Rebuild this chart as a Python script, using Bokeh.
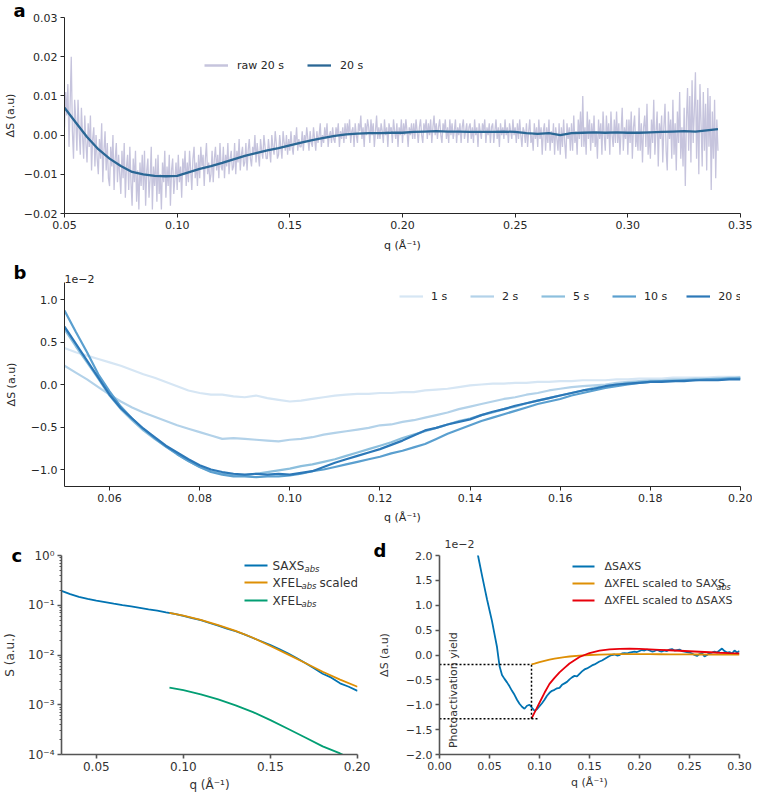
import numpy as np
from bokeh.plotting import figure
from bokeh.layouts import column, row
from bokeh.models import (Range1d, FixedTicker, CustomJSTickFormatter, Label,
                          Legend, LegendItem, BoxAnnotation, Title)
from bokeh.embed import file_html
from bokeh.resources import INLINE

FONT = "DejaVu Sans"

# ---------------- panel a : raw and smoothed 20 s difference (units 1e-3) ----------------
a_raw_q_start, a_raw_q_step = 0.050, 0.0005
a_raw_20s = [
    2, 11, 5, 13, -3, 8, 20, 1, -6, 9,
    4, -4, 9, 1, -5, 7, 0, -6, 5, -2,
    -7, 3, -3, 5, -9, -1, 2, -8, 0, -6,
    -10, -1, -6, 3, -12, -4, 1, -9, -2, -11,
    -13, -3, -8, 0, -14, -6, -2, -12, -5, -10,
    -15, -4, -11, -2, -16, -8, -5, -14, -3, -12,
    -18, -6, -12, -4, -17, -9, -19, -7, -13, -5,
    -14, -4, -18, -9, -6, -16, -11, -3, -19, -8,
    -13, -6, -17, -5, -15, -10, -19, -7, -12, -4,
    -16, -8, -13, -5, -18, -9, -6, -15, -11, -7,
    -14, -5, -12, -8, -16, -6, -10, -4, -13, -7,
    -12, -4, -9, -14, -6, -3, -11, -7, -13, -5,
    -11, -3, -8, -5, -13, -6, -2, -10, -7, -12,
    -10, -4, -12, -6, -3, -9, -5, -11, -2, -8,
    -9, -3, -11, -5, -8, -2, -10, -6, -4, -9,
    -8, -2, -10, -4, -7, -1, -9, -5, -3, -8,
    -7, -2, -9, -4, -1, -6, -8, -3, -5, 0,
    -7, -2, -5, -8, -1, -4, -6, 0, -3, -6,
    -6, -1, -4, -7, 0, -3, -5, 1, -2, -6,
    -5, 0, -3, -6, 1, -2, -4, 0, -5, -1,
    -4, 1, -3, -5, 0, -2, 2, -4, -1, -3,
    -3, 1, -4, 0, -2, 2, -1, -4, 1, -2,
    -3, 2, -1, -4, 1, -2, 0, 3, -3, 0,
    -2, 2, -1, 3, -3, 0, 1, -2, 2, -1,
    -2, 2, 0, 3, -3, 1, -1, 2, -2, 3,
    -1, 3, 0, 4, -2, 1, 2, -3, 3, 0,
    -2, 3, 1, 5, -1, 2, -3, 3, 0, 4,
    2, -2, 4, 0, 3, -3, 1, 5, -1, 2,
    -1, 3, 1, -2, 4, 0, 2, -3, 3, 1,
    2, -2, 4, 1, -1, 3, -3, 2, 0, 4,
    -2, 3, 0, 4, 1, -3, 2, 0, 3, -1,
    3, -1, 4, 1, -2, 2, 4, 0, -2, 3,
    1, 4, -1, 3, 0, 4, -2, 2, 5, 0,
    3, -1, 2, 4, 0, -2, 3, 1, 4, -1,
    2, -2, 4, 0, 3, -1, 1, 4, -2, 2,
    0, 3, -2, 2, 4, -1, 1, 3, -2, 2,
    3, -1, 2, -2, 4, 0, 2, -3, 3, 1,
    -1, 3, 1, 4, -2, 2, 0, 3, -2, 2,
    3, -2, 1, 4, -1, 2, -3, 3, 0, 2,
    -1, 4, 0, 2, -2, 3, 1, -1, 4, 0,
    2, -2, 3, -1, 4, 0, -3, 2, 1, -2,
    3, -3, 1, 4, -2, 0, -4, 3, -1, 2,
    -3, 4, -1, 2, -5, 1, 3, -4, 2, -2,
    4, -4, 1, -2, 3, -5, 2, -1, -4, 3,
    -5, 2, -3, 4, -2, -6, 3, -1, 2, -4,
    3, -4, 5, -2, 1, -5, 4, -1, 6, -3,
    10, -3, 2, -5, 6, -1, 4, -4, 3, -2,
    5, -3, 1, -6, 4, -1, 3, -5, 6, 0,
    -4, 5, -1, 3, -5, 6, 0, -3, 4, -2,
    6, -2, 3, -5, 1, 7, -4, 2, -1, 4,
    -5, 4, -2, 6, -6, 2, 5, -3, 1, -4,
    7, -4, 3, -7, 2, 5, -3, 8, -5, 1,
    -6, 4, -2, 9, -5, 1, 6, -8, 3, -1,
    5, -7, 2, 8, -4, -9, 6, -1, 4, -6,
    9, -5, 3, -9, 6, -2, 11, -6, 2, -8,
    7, -13, 4, 12, -4, 10, -7, 14, -2, 6,
    16, -6, 9, -10, 13, 3, -8, 11, -4, 8,
    -9, 12, -3, 10, -14, 6, -6, 9, -11, 4,
    -4,
]
a_smooth_q_start, a_smooth_q_step = 0.050, 0.005
a_smooth_20s = [
    7.0, 3.2, -0.5, -3.6, -6.0, -7.9, -9.4, -10.0, -10.4, -10.5,
    -10.4, -9.5, -8.6, -7.9, -7.1, -6.2, -5.3, -4.6, -3.9, -3.3,
    -2.6, -1.9, -1.3, -0.7, -0.2, 0.2, 0.4, 0.5, 0.5, 0.6,
    0.6, 0.8, 0.9, 1.0, 0.9, 0.9, 0.8, 0.8, 0.8, 0.9,
    0.8, 0.5, 0.3, 0.5, 0.0, 0.5, 0.6, 0.7, 0.6, 0.7,
    0.6, 0.6, 0.7, 0.8, 0.9, 1.0, 0.9, 1.2, 1.5,
]
a_labels = ["raw 20 s", "20 s"]
a_xticks = [0.05, 0.10, 0.15, 0.20, 0.25, 0.30, 0.35]
a_yticks = [-0.02, -0.01, 0.00, 0.01, 0.02, 0.03]

# ---------------- panel b : time series (units 1e-2) ----------------
b_q_start, b_q_step = 0.050, 0.0025
b_labels = ["1 s", "2 s", "5 s", "10 s", "20 s"]
b_1s = [
    0.43, 0.38, 0.34, 0.30, 0.26, 0.22, 0.17, 0.12, 0.08, 0.03,
    -0.02, -0.07, -0.10, -0.12, -0.12, -0.14, -0.15, -0.13, -0.16, -0.18,
    -0.20, -0.19, -0.17, -0.15, -0.13, -0.12, -0.11, -0.11, -0.10, -0.10,
    -0.09, -0.09, -0.07, -0.06, -0.05, -0.03, -0.01, 0.00, 0.01, 0.01,
    0.02, 0.02, 0.03, 0.03, 0.04, 0.04, 0.05, 0.05, 0.05, 0.06,
    0.06, 0.07, 0.07, 0.07, 0.08, 0.08, 0.08, 0.08, 0.09, 0.09, 0.09,
]
b_2s = [
    0.22, 0.14, 0.06, -0.03, -0.12, -0.20, -0.27, -0.33, -0.38, -0.43,
    -0.48, -0.52, -0.56, -0.60, -0.64, -0.63, -0.64, -0.65, -0.66, -0.67,
    -0.65, -0.64, -0.62, -0.59, -0.57, -0.55, -0.53, -0.51, -0.48, -0.47,
    -0.44, -0.42, -0.39, -0.36, -0.33, -0.29, -0.26, -0.23, -0.20, -0.17,
    -0.15, -0.12, -0.10, -0.07, -0.05, -0.03, -0.02, -0.01, 0.00, 0.02,
    0.03, 0.04, 0.05, 0.05, 0.06, 0.06, 0.07, 0.07, 0.07, 0.08, 0.08,
]
b_5s = [
    0.65, 0.45, 0.26, 0.07, -0.13, -0.29, -0.42, -0.54, -0.64, -0.73,
    -0.82, -0.90, -0.97, -1.02, -1.05, -1.07, -1.07, -1.05, -1.03, -1.01,
    -0.99, -0.96, -0.94, -0.91, -0.88, -0.84, -0.80, -0.76, -0.72, -0.68,
    -0.63, -0.59, -0.55, -0.51, -0.47, -0.43, -0.40, -0.36, -0.33, -0.29,
    -0.26, -0.22, -0.19, -0.16, -0.13, -0.10, -0.07, -0.04, -0.02, 0.00,
    0.02, 0.03, 0.04, 0.04, 0.05, 0.05, 0.06, 0.06, 0.07, 0.07, 0.08,
]
b_10s = [
    0.87, 0.62, 0.38, 0.12, -0.08, -0.26, -0.40, -0.52, -0.63, -0.73,
    -0.82, -0.90, -0.97, -1.03, -1.06, -1.08, -1.08, -1.09, -1.08, -1.08,
    -1.07, -1.05, -1.02, -1.00, -0.97, -0.94, -0.91, -0.88, -0.85, -0.81,
    -0.78, -0.74, -0.70, -0.64, -0.58, -0.53, -0.48, -0.43, -0.39, -0.35,
    -0.31, -0.27, -0.23, -0.20, -0.17, -0.13, -0.10, -0.07, -0.04, -0.02,
    0.00, 0.02, 0.03, 0.04, 0.04, 0.05, 0.05, 0.06, 0.06, 0.07, 0.07,
]
b_20s = [
    0.68, 0.48, 0.28, 0.08, -0.12, -0.28, -0.40, -0.52, -0.62, -0.72,
    -0.80, -0.88, -0.95, -1.00, -1.03, -1.05, -1.06, -1.05, -1.06, -1.05,
    -1.06, -1.04, -1.02, -0.97, -0.92, -0.88, -0.84, -0.80, -0.76, -0.71,
    -0.66, -0.60, -0.54, -0.51, -0.47, -0.44, -0.41, -0.36, -0.32, -0.29,
    -0.25, -0.22, -0.19, -0.16, -0.13, -0.10, -0.07, -0.05, -0.02, 0.00,
    0.01, 0.02, 0.03, 0.03, 0.04, 0.04, 0.05, 0.05, 0.05, 0.06, 0.06,
]
b_series = [b_1s, b_2s, b_5s, b_10s, b_20s]
b_colors = ["#d6e6f4", "#b3d2e9", "#8cbfdd", "#5a9fcf", "#2c78b8"]
b_xticks = [0.06, 0.08, 0.10, 0.12, 0.14, 0.16, 0.18, 0.20]
b_yticks = [-1.0, -0.5, 0.0, 0.5, 1.0]

# ---------------- panel c : absolute curves ----------------
c_saxs_q_start, c_saxs_q_step = 0.030, 0.005
c_saxs_abs = [
    0.195, 0.168, 0.148, 0.134, 0.124, 0.116, 0.108, 0.101, 0.095, 0.089,
    0.083, 0.078, 0.072, 0.067, 0.061, 0.055, 0.050, 0.044, 0.039, 0.034,
    0.030, 0.026, 0.022, 0.0187, 0.0158, 0.0131, 0.0108, 0.0087, 0.0069, 0.0054,
    0.0042, 0.0035, 0.0027, 0.0023, 0.0019,
]
c_xfel_q = [0.092, 0.10, 0.11, 0.12, 0.13, 0.14, 0.15, 0.16, 0.17, 0.18, 0.19, 0.20]
c_xfel_scaled = [0.070, 0.062, 0.051, 0.040, 0.0305, 0.0222, 0.0152, 0.0103, 0.0069, 0.0046, 0.0032, 0.0023]
c_xfel_abs = [0.00222, 0.00196, 0.00162, 0.00128, 0.00097, 0.00071, 0.00049, 0.00033, 0.00022, 0.000146, 0.000105, 0.000073]
c_xticks = [0.05, 0.10, 0.15, 0.20]
c_yticks = [1e-4, 1e-3, 1e-2, 1e-1, 1e0]

# ---------------- panel d : difference curves (units 1e-2) ----------------
d_saxs_q_start, d_saxs_q_step = 0.035, 0.0025
d_delta_saxs = [
    2.35, 2.10, 1.85, 1.60, 1.36, 1.12, 0.90, 0.68, 0.42, 0.16,
    -0.22, -0.40, -0.48, -0.55, -0.63, -0.72, -0.80, -0.90, -0.98, -1.04,
    -1.08, -1.02, -1.00, -1.06, -1.12, -1.09, -1.03, -0.97, -0.90, -0.82,
    -0.76, -0.72, -0.70, -0.67, -0.66, -0.60, -0.57, -0.54, -0.49, -0.45,
    -0.42, -0.43, -0.38, -0.33, -0.29, -0.27, -0.24, -0.21, -0.19, -0.16,
    -0.13, -0.11, -0.08, -0.05, -0.02, 0.00, 0.01, -0.01, 0.00, 0.03,
    0.04, 0.03, 0.05, 0.06, 0.07, 0.06, 0.08, 0.10, 0.09, 0.11,
    0.09, 0.07, 0.08, 0.10, 0.08, 0.07, 0.09, 0.08, 0.11, 0.12,
    0.09, 0.10, 0.11, 0.08, 0.07, 0.06, 0.05, 0.03, 0.00, -0.02,
    0.02, 0.04, -0.03, 0.00, 0.04, 0.05, 0.07, 0.05, 0.09, 0.13,
    0.08, 0.05, 0.06, 0.03, 0.09, 0.05, 0.08,
]
d_xfel_q = [0.092, 0.095, 0.10, 0.105, 0.11, 0.115, 0.12, 0.125, 0.13, 0.14, 0.15, 0.16, 0.17,
            0.18, 0.19, 0.20, 0.21, 0.22, 0.23, 0.24, 0.25, 0.26, 0.27, 0.28, 0.29, 0.30]
d_xfel_to_saxs_abs = [-0.19, -0.175, -0.145, -0.12, -0.095, -0.075, -0.058, -0.043, -0.030, -0.012,
                      0.0, 0.008, 0.013, 0.016, 0.017, 0.017, 0.016, 0.015, 0.014, 0.013,
                      0.011, 0.010, 0.009, 0.008, 0.007, 0.006]
d_xfel_to_delta_saxs = [-1.28, -1.16, -0.96, -0.76, -0.58, -0.46, -0.35, -0.26, -0.17, -0.04,
                        0.04, 0.09, 0.115, 0.125, 0.13, 0.125, 0.115, 0.105, 0.095, 0.085,
                        0.075, 0.065, 0.055, 0.045, 0.038, 0.032]
d_yield_line_end_q = 0.098
d_xticks = [0.00, 0.05, 0.10, 0.15, 0.20, 0.25, 0.30]
d_yticks = [-2.0, -1.5, -1.0, -0.5, 0.0, 0.5, 1.0, 1.5, 2.0]


def qgrid(start, step, n):
    return np.round(start + step * np.arange(n), 5)


def fmt(decimals):
    return CustomJSTickFormatter(code="return tick.toFixed(%d).replace('-', '\\u2212');" % decimals)


log_fmt = CustomJSTickFormatter(code=r"""
const e = Math.round(Math.log10(tick));
const sup = {'0':'\u2070','1':'\u00b9','2':'\u00b2','3':'\u00b3','4':'\u2074','5':'\u2075','-':'\u207b'};
return '10' + String(e).split('').map(c => sup[c]).join('');
""")


def style(p, fs, axis_color, text_color, lw):
    p.grid.visible = False
    p.outline_line_color = None
    p.background_fill_color = "white"
    p.border_fill_color = "white"
    for ax in list(p.xaxis) + list(p.yaxis):
        ax.axis_line_color = axis_color
        ax.axis_line_width = lw
        ax.major_tick_line_color = axis_color
        ax.major_tick_line_width = lw
        ax.major_tick_out = 4
        ax.major_tick_in = 0
        ax.minor_tick_line_color = None
        ax.major_label_text_font = FONT
        ax.major_label_text_font_size = fs
        ax.major_label_text_color = text_color
        ax.major_label_standoff = 3
        ax.axis_label_text_font = FONT
        ax.axis_label_text_font_size = fs
        ax.axis_label_text_font_style = "normal"
        ax.axis_label_text_color = text_color


def top_text(p, text, size, offset, standoff, bold=False, color="black"):
    p.add_layout(Title(text=text, align="left", offset=offset, standoff=standoff,
                       vertical_align="bottom", text_font=FONT, text_font_size=size,
                       text_font_style="bold" if bold else "normal", text_color=color), "above")


def screen_label(p, text, x, y, size, italic=False, color="#262626"):
    p.add_layout(Label(x=x, y=y, x_units="screen", y_units="screen", text=text,
                       text_font=FONT, text_font_size=size,
                       text_font_style="italic" if italic else "normal",
                       text_color=color, text_align="left", text_baseline="middle"))


def legend_line(p, x0, x1, y, color, w=2.0):
    p.add_layout(BoxAnnotation(left=x0, right=x1, bottom=y - w / 2, top=y + w / 2,
                               left_units="screen", right_units="screen",
                               bottom_units="screen", top_units="screen",
                               fill_color=color, fill_alpha=1.0, line_alpha=0))


# ================= panel a =================
pa = figure(width=752, height=258, x_range=Range1d(0.05, 0.35), y_range=Range1d(-0.02, 0.03),
            output_backend="svg", toolbar_location=None,
            min_border_left=55, min_border_right=12, min_border_top=15, min_border_bottom=45)
style(pa, "11px", "#262626", "#262626", 1)
q_raw = qgrid(a_raw_q_start, a_raw_q_step, len(a_raw_20s))
q_sm = qgrid(a_smooth_q_start, a_smooth_q_step, len(a_smooth_20s))
pa.line(q_raw, np.array(a_raw_20s) * 1e-3, color="#c6c4dd", line_width=1.3)
# legend key only (a single NaN point, nothing drawn in the plot)
r_raw_key = pa.line(x=[np.nan], y=[np.nan], color="#c6c4dd", line_width=2.5)
r_sm = pa.line(q_sm, np.array(a_smooth_20s) * 1e-3, color="#2a6795", line_width=2.3)
pa.xaxis.ticker = FixedTicker(ticks=a_xticks)
pa.yaxis.ticker = FixedTicker(ticks=a_yticks)
pa.xaxis.formatter = fmt(2)
pa.yaxis.formatter = fmt(2)
pa.xaxis.axis_label = "q (Å⁻¹)"
pa.yaxis.axis_label = "ΔS (a.u)"
pa.xaxis.axis_label_standoff = 7
pa.yaxis.axis_label_standoff = 4
leg_a = Legend(items=[LegendItem(label=a_labels[0], renderers=[r_raw_key]),
                      LegendItem(label=a_labels[1], renderers=[r_sm])],
               orientation="horizontal", location=(140, 141),
               border_line_alpha=0, background_fill_alpha=0,
               glyph_width=24, glyph_height=14, label_height=14, padding=0, margin=0,
               spacing=23, label_standoff=9,
               label_text_font=FONT, label_text_font_size="11px", label_text_color="#262626")
pa.add_layout(leg_a)
top_text(pa, "a", "18px", -51, -6, bold=True)

# ================= panel b =================
pb = figure(width=752, height=274, x_range=Range1d(0.05, 0.20), y_range=Range1d(-1.2, 1.2),
            output_backend="svg", toolbar_location=None,
            min_border_left=55, min_border_right=12, min_border_top=24, min_border_bottom=46)
style(pb, "11px", "#262626", "#262626", 1)
b_renderers = []
for ser, col in zip(b_series, b_colors):
    qb = qgrid(b_q_start, b_q_step, len(ser))
    b_renderers.append(pb.line(qb, ser, color=col, line_width=2.2))
pb.xaxis.ticker = FixedTicker(ticks=b_xticks)
pb.yaxis.ticker = FixedTicker(ticks=b_yticks)
pb.xaxis.formatter = fmt(2)
pb.yaxis.formatter = fmt(1)
pb.xaxis.axis_label = "q (Å⁻¹)"
pb.yaxis.axis_label = "ΔS (a.u)"
pb.xaxis.axis_label_standoff = 6
pb.yaxis.axis_label_standoff = 10
leg_b = Legend(items=[LegendItem(label=l, renderers=[r]) for l, r in zip(b_labels, b_renderers)],
               orientation="horizontal", location=(335, 183),
               border_line_alpha=0, background_fill_alpha=0,
               glyph_width=24, glyph_height=14, label_height=14, padding=0, margin=0,
               spacing=19, label_standoff=8,
               label_text_font=FONT, label_text_font_size="11px", label_text_color="#262626")
pb.add_layout(leg_b)
top_text(pb, "1e\u22122", "11px", 0, 0, color="#262626")
top_text(pb, "b", "18px", -51, -20, bold=True)

# ================= panel c =================
pc = figure(width=370, height=262, x_range=Range1d(0.03, 0.20), y_range=Range1d(1e-4, 1.0),
            y_axis_type="log", output_backend="svg", toolbar_location=None,
            min_border_left=56, min_border_right=13, min_border_top=21, min_border_bottom=38)
style(pc, "12px", "#555555", "#333333", 1.6)
q_saxs = qgrid(c_saxs_q_start, c_saxs_q_step, len(c_saxs_abs))
c_cols = ["#0173b2", "#de8f05", "#029e73"]
pc.line(q_saxs, c_saxs_abs, color=c_cols[0], line_width=1.8)
pc.line(c_xfel_q, c_xfel_scaled, color=c_cols[1], line_width=1.8)
pc.line(c_xfel_q, c_xfel_abs, color=c_cols[2], line_width=1.8)
minor = [m * d for d in c_yticks[:-1] for m in range(2, 10)]
pc.yaxis.ticker = FixedTicker(ticks=c_yticks, minor_ticks=minor)
pc.yaxis.formatter = log_fmt
pc.yaxis.minor_tick_line_color = "#555555"
pc.yaxis.minor_tick_line_width = 1
pc.yaxis.minor_tick_out = 2
pc.yaxis.minor_tick_in = 0
pc.xaxis.ticker = FixedTicker(ticks=c_xticks)
pc.xaxis.formatter = fmt(2)
pc.xaxis.axis_label = "q (Å⁻¹)"
pc.yaxis.axis_label = "S (a.u.)"
pc.xaxis.axis_label_standoff = 4
pc.yaxis.axis_label_standoff = 8
c_rows = [189, 172, 154]
for yrow, col in zip(c_rows, c_cols):
    legend_line(pc, 183, 206, yrow, col)
screen_label(pc, "SAXS", 211, c_rows[0], "12px", color="#333333")
screen_label(pc, "abs", 243, c_rows[0] - 3.5, "8.5px", italic=True, color="#333333")
screen_label(pc, "XFEL", 211, c_rows[1], "12px", color="#333333")
screen_label(pc, "abs", 240, c_rows[1] - 3.5, "8.5px", italic=True, color="#333333")
screen_label(pc, "scaled", 258, c_rows[1], "12px", color="#333333")
screen_label(pc, "XFEL", 211, c_rows[2], "12px", color="#333333")
screen_label(pc, "abs", 240, c_rows[2] - 3.5, "8.5px", italic=True, color="#333333")
top_text(pc, "c", "18px", -50, -20, bold=True)

# ================= panel d =================
pd_ = figure(width=382, height=262, x_range=Range1d(0.0, 0.30), y_range=Range1d(-2.0, 2.0),
             output_backend="svg", toolbar_location=None,
             min_border_left=69, min_border_right=13, min_border_top=23, min_border_bottom=36)
style(pd_, "11px", "#555555", "#333333", 1.6)
q_d = qgrid(d_saxs_q_start, d_saxs_q_step, len(d_delta_saxs))
d_cols = ["#0173b2", "#de8f05", "#e8000b"]
pd_.line(q_d, d_delta_saxs, color=d_cols[0], line_width=1.8)
pd_.line(d_xfel_q, d_xfel_to_saxs_abs, color=d_cols[1], line_width=1.8)
pd_.line(d_xfel_q, d_xfel_to_delta_saxs, color=d_cols[2], line_width=1.8)
x_y = d_xfel_q[0]
y_top = d_xfel_to_saxs_abs[0]
y_bot = d_xfel_to_delta_saxs[0]
pd_.line([0.0, x_y], [y_top, y_top], color="black", line_width=1.5, line_dash="2 2")
pd_.line([0.0, d_yield_line_end_q], [y_bot, y_bot], color="black", line_width=1.5, line_dash="2 2")
pd_.line([x_y, x_y], [y_bot, y_top], color="black", line_width=1.5, line_dash="2 2")
pd_.add_layout(Label(x=0.0137, y=-1.87, text="Photoactivation yield", angle=90, angle_units="deg",
                     text_font=FONT, text_font_size="11px", text_color="#333333",
                     text_align="left", text_baseline="middle"))
pd_.xaxis.ticker = FixedTicker(ticks=d_xticks)
pd_.yaxis.ticker = FixedTicker(ticks=d_yticks)
pd_.xaxis.formatter = fmt(2)
pd_.yaxis.formatter = fmt(1)
pd_.xaxis.axis_label = "q (Å⁻¹)"
pd_.yaxis.axis_label = "ΔS (a.u)"
pd_.xaxis.axis_label_standoff = 3
pd_.yaxis.axis_label_standoff = 12
d_rows = [188, 171, 154]
for yrow, col in zip(d_rows, d_cols):
    legend_line(pd_, 133, 155, yrow, col)
screen_label(pd_, "ΔSAXS", 165, d_rows[0], "11px", color="#333333")
screen_label(pd_, "ΔXFEL scaled to SAXS", 165, d_rows[1], "11px", color="#333333")
screen_label(pd_, "abs", 277, d_rows[1] - 3.5, "8px", italic=True, color="#333333")
screen_label(pd_, "ΔXFEL scaled to ΔSAXS", 165, d_rows[2], "11px", color="#333333")
top_text(pd_, "d", "18px", -66, -10, bold=True)
top_text(pd_, "1e\u22122", "11px", 5, -10, color="#333333")

layout = column(pa, pb, row(pc, pd_))
open("out.html", "w", encoding="utf-8").write(file_html(layout, INLINE))
